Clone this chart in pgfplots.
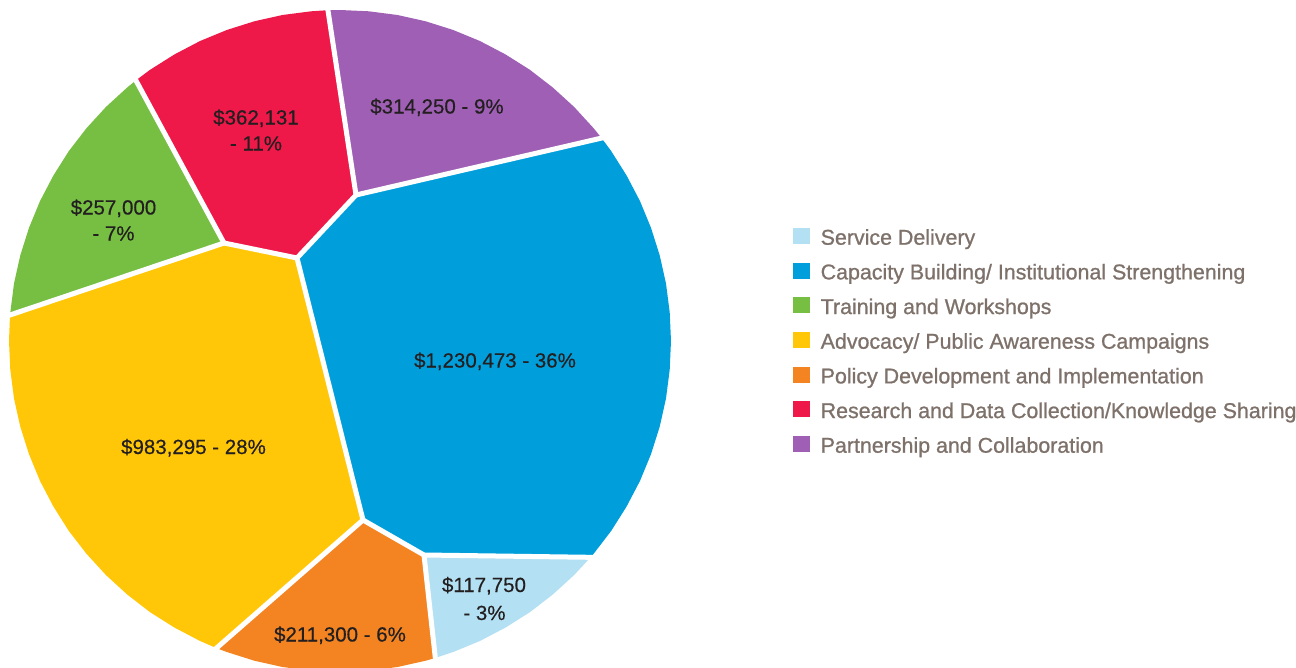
\documentclass[border=0pt]{standalone}
\usepackage{pgfplots}
\pgfplotsset{compat=1.18}
\usepackage{fontspec}
\setmainfont{Liberation Sans}
\newfontfamily\legfont[FakeBold=0.9]{Liberation Sans}
\newfontfamily\labfont[FakeBold=0.4]{Liberation Sans}
\definecolor{lbcol}{HTML}{B3E1F3}
\definecolor{bluecol}{HTML}{009FDB}
\definecolor{greencol}{HTML}{76BF43}
\definecolor{yellowcol}{HTML}{FFC708}
\definecolor{orangecol}{HTML}{F38421}
\definecolor{redcol}{HTML}{EE1849}
\definecolor{purplecol}{HTML}{9F5FB4}
\definecolor{legendgray}{HTML}{7D716A}
\definecolor{labelcol}{HTML}{231F20}
\newcommand{\lbl}{\labfont\fontsize{20.5bp}{24bp}\selectfont\color{labelcol}}
\begin{document}
\begin{tikzpicture}
\useasboundingbox (0,0) rectangle (1296bp,668bp);
\begin{axis}[
  at={(0,0)}, anchor=south west,
  scale only axis, width=1296bp, height=668bp,
  xmin=0, xmax=1296, ymin=0, ymax=668,
  y dir=reverse,
  axis lines=none, clip=true,
  legend cell align=left,
  legend image code/.code={\fill[#1] (0bp,-5.5bp) rectangle (16.5bp,10.5bp);},
  legend style={at={(axis cs:793,227)}, anchor=north west, draw=none, fill=none,
    inner sep=0pt, row sep=12.17bp,
    font=\legfont\fontsize{21.4bp}{24bp}\selectfont, text=legendgray,
    nodes={inner sep=0pt, text height=17.5bp, text depth=5bp},
    /tikz/every odd column/.style={column sep=11bp}},
]
% Service Delivery
\addplot[fill=lbcol, draw=none] coordinates {
 (424,555) (590.6,557.3) (574.1,575.1) (552.8,594.5) (529.9,612.2) (505.5,627.6)
 (479.9,641.0) (453.2,652.0) (435.1,658.0)} -- cycle;
\addlegendentry{Service Delivery}
% Capacity Building
\addplot[fill=bluecol, draw=none] coordinates {
 (356,195) (601.6,138.1) (611.2,151.1) (626.6,175.5) (640.0,201.1) (651.0,227.8)
 (659.7,255.3) (666.0,283.5) (669.7,312.1) (671,341) (669.7,369.9) (666.0,398.5)
 (659.7,426.7) (651.0,454.2) (640.0,480.9) (626.6,506.5) (611.2,530.9)
 (593.6,553.8) (590.6,557.3) (424,555) (363,520) (297,258)} -- cycle;
\addlegendentry{Capacity Building/ Institutional Strengthening}
% Training
\addplot[fill=greencol, draw=none] coordinates {
 (10.0,315.0) (14.0,283.5) (20.3,255.3) (29.0,227.8) (40.0,201.1) (53.4,175.5)
 (68.8,151.1) (86.5,128.2) (106.0,106.9) (127.2,87.5) (135.8,80.5) (224,243)} -- cycle;
\addlegendentry{Training and Workshops}
% Advocacy
\addplot[fill=yellowcol, draw=none] coordinates {
 (224,243) (10.0,315.0) (9,341) (10.3,369.9) (14.0,398.5) (20.3,426.7) (29.0,454.2)
 (40.0,480.9) (53.4,506.5) (68.8,530.9) (86.5,553.8) (106.0,575.1) (127.2,594.5)
 (150.1,612.2) (174.5,627.6) (200.1,641.0) (216.5,648.1) (363,520) (297,258)} -- cycle;
\addlegendentry{Advocacy/ Public Awareness Campaigns}
% Policy
\addplot[fill=orangecol, draw=none] coordinates {
 (216.5,648.1) (226.8,652.0) (254.3,660.7) (282.5,667.0) (311.1,670.7) (340,672)
 (368.9,670.7) (397.5,667.0) (425.7,660.7) (435.1,658.0) (424,555) (363,520)} -- cycle;
\addlegendentry{Policy Development and Implementation}
% Research
\addplot[fill=redcol, draw=none] coordinates {
 (135.8,80.5) (150.1,69.8) (174.5,54.4) (200.1,41.0) (226.8,30.0) (254.3,21.3)
 (282.5,15.0) (311.1,11.3) (327.9,10.2) (356,195) (297,258) (224,243)} -- cycle;
\addlegendentry{Research and Data Collection/Knowledge Sharing}
% Partnership
\addplot[fill=purplecol, draw=none] coordinates {
 (327.9,10.2) (340,10) (368.9,11.3) (397.5,15.0) (425.7,21.3) (453.2,30.0)
 (479.9,41.0) (505.5,54.4) (529.9,69.8) (552.8,87.5) (574.1,106.9) (593.6,128.2)
 (601.6,138.1) (356,195)} -- cycle;
\addlegendentry{Partnership and Collaboration}
% white separators
\pgfplotsset{sep/.style={white, line width=5bp, forget plot, line join=round}}
\addplot[sep] coordinates {(133,75) (224,243)};
\addplot[sep] coordinates {(4,317) (224,243)};
\addplot[sep] coordinates {(224,243) (297,258)};
\addplot[sep] coordinates {(297,258) (356,195)};
\addplot[sep] coordinates {(356,195) (327,4)};
\addplot[sep] coordinates {(356,195) (607.5,136.7)};
\addplot[sep] coordinates {(297,258) (363,520)};
\addplot[sep] coordinates {(363,520) (212,652)};
\addplot[sep] coordinates {(363,520) (424,555)};
\addplot[sep] coordinates {(424,555) (597,557.4)};
\addplot[sep] coordinates {(424,555) (436,664)};
% labels
\node[anchor=base, font=\lbl] at (axis cs:437,113.5) {\$314,250 - 9\%};
\node[anchor=base, font=\lbl] at (axis cs:256,124.5) {\$362,131};
\node[anchor=base, font=\lbl] at (axis cs:256,150.5) {- 11\%};
\node[anchor=base, font=\lbl] at (axis cs:113.5,214.5) {\$257,000};
\node[anchor=base, font=\lbl] at (axis cs:113.5,240.5) {- 7\%};
\node[anchor=base, font=\lbl] at (axis cs:495,367.5) {\$1,230,473 - 36\%};
\node[anchor=base, font=\lbl] at (axis cs:193.5,454) {\$983,295 - 28\%};
\node[anchor=base, font=\lbl] at (axis cs:484,592) {\$117,750};
\node[anchor=base, font=\lbl] at (axis cs:484.5,620) {- 3\%};
\node[anchor=base, font=\lbl] at (axis cs:340,641.5) {\$211,300 - 6\%};
\end{axis}
\end{tikzpicture}
\end{document}
